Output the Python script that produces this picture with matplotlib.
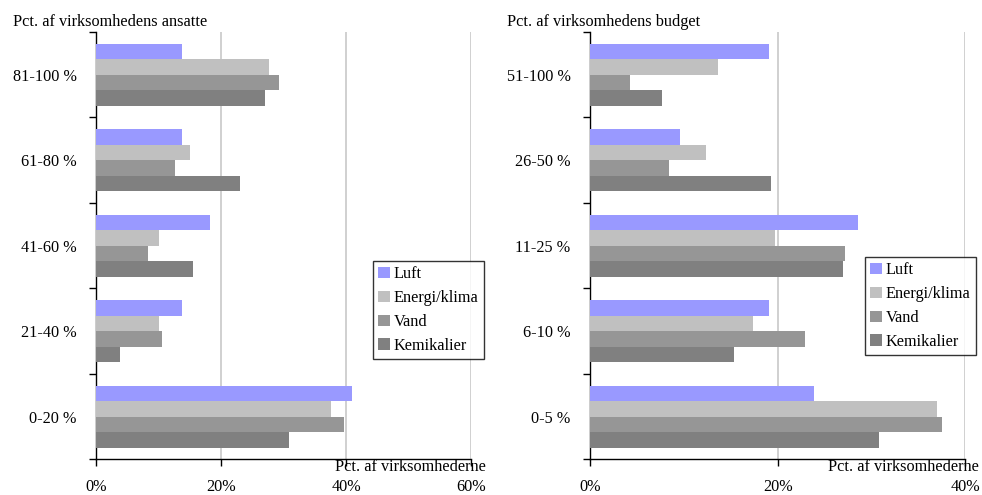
import matplotlib
matplotlib.use("Agg")
import matplotlib.pyplot as plt
import numpy as np
from matplotlib.patches import Patch

plt.rcParams['font.family'] = ['Liberation Serif', 'DejaVu Serif']

series = ["Luft", "Energi/klima", "Vand", "Kemikalier"]
colors = ["#9999FF", "#C0C0C0", "#969696", "#808080"]

left_cats = ["81-100 %", "61-80 %", "41-60 %", "21-40 %", "0-20 %"]
left_luft = [13.7, 13.7, 18.2, 13.7, 40.9]
left_energi = [27.6, 15.0, 10.0, 10.0, 37.5]
left_vand = [29.2, 12.6, 8.3, 10.5, 39.6]
left_kemi = [27.0, 23.0, 15.4, 3.8, 30.8]

right_cats = ["51-100 %", "26-50 %", "11-25 %", "6-10 %", "0-5 %"]
right_luft = [19.1, 9.6, 28.6, 19.1, 23.9]
right_energi = [13.6, 12.4, 19.7, 17.4, 37.0]
right_vand = [4.3, 8.4, 27.2, 22.9, 37.5]
right_kemi = [7.7, 19.3, 27.0, 15.4, 30.8]

left_ticks = [0, 20, 40, 60]
right_ticks = [0, 20, 40]

W, H = 982, 495
FS = 11.7
fig = plt.figure(figsize=(W / 100, H / 100), dpi=100)


def px_axes(x0, y0, x1, y1):
    return fig.add_axes([x0 / W, 1 - y1 / H, (x1 - x0) / W, (y1 - y0) / H])


def draw(ax, cats, data, ticks, title, title_x, xlabel_right, legend_xy):
    n = len(cats)
    bh = 0.181
    offsets = np.array([-1.5, -0.5, 0.5, 1.5]) * bh
    y = np.arange(n)
    for vals, off, c in zip(data, offsets, colors):
        ax.barh(y + off, vals, height=bh, color=c, zorder=3, linewidth=0)
    ax.set_ylim(n - 0.5, -0.5)
    ax.set_xlim(ticks[0], ticks[-1])
    ax.set_xticks(ticks)
    ax.set_xticklabels([f"{t}%" for t in ticks], fontsize=FS)
    ax.tick_params(axis='x', direction='out', length=5, width=1, pad=9.5, colors='black')
    ax.xaxis.grid(True, color='#c8c8c8', linewidth=1.2, zorder=0)
    ax.set_yticks(np.arange(n + 1) - 0.5)
    ax.set_yticklabels([])
    ax.set_yticks(y, minor=True)
    ax.set_yticklabels(cats, minor=True, fontsize=FS)
    ax.tick_params(axis='y', which='major', direction='out', length=5, width=1)
    ax.tick_params(axis='y', which='minor', length=0, pad=14)
    for s in ['top', 'right']:
        ax.spines[s].set_visible(False)
    for s in ['left', 'bottom']:
        ax.spines[s].set_color('black')
        ax.spines[s].set_linewidth(1)
    ax.set_axisbelow(True)
    fig.text(title_x / W, 1 - 22 / H, title, fontsize=FS, ha='left', va='center')
    fig.text(xlabel_right / W, 1 - 467 / H, "Pct. af virksomhederne", fontsize=FS,
             ha='right', va='center')
    handles = [Patch(facecolor=c, edgecolor='none', label=s) for s, c in zip(series, colors)]
    leg = fig.legend(handles=handles, loc='upper left',
                     bbox_to_anchor=(legend_xy[0] / W, 1 - legend_xy[1] / H),
                     fontsize=FS, frameon=True, fancybox=False, borderaxespad=0,
                     handlelength=0.7, handleheight=0.7, handletextpad=0.25,
                     labelspacing=0.48, borderpad=0.33)
    leg.get_frame().set_edgecolor('black')
    leg.get_frame().set_linewidth(1)


ax1 = px_axes(96.3, 32, 471.3, 459.3)
draw(ax1, left_cats, [left_luft, left_energi, left_vand, left_kemi], left_ticks,
     "Pct. af virksomhedens ansatte", 13, 486, (373, 261))

ax2 = px_axes(590, 32, 965.3, 459.3)
draw(ax2, right_cats, [right_luft, right_energi, right_vand, right_kemi], right_ticks,
     "Pct. af virksomhedens budget", 507, 979, (865, 257))

fig.savefig("out.png", dpi=100)
